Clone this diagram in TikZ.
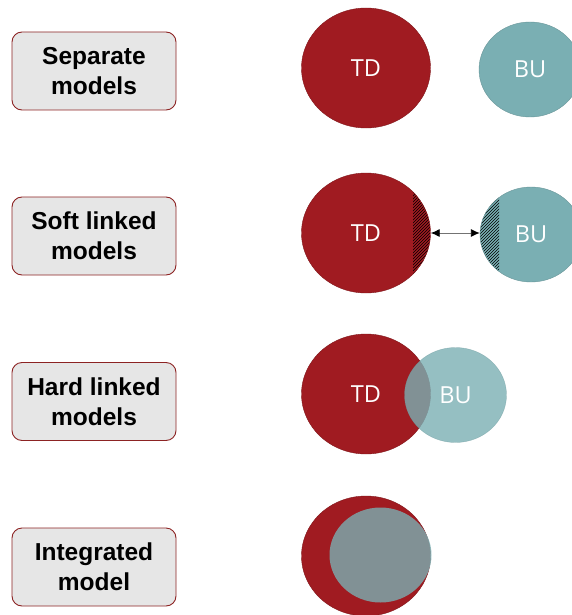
\documentclass[tikz,border=0pt]{standalone}
\usepackage{fontspec}
\setmainfont{Liberation Sans}
\newfontfamily\circfont{Open Sans}
\usetikzlibrary{shapes.geometric,positioning,arrows.meta,patterns}

\definecolor{tdred}{RGB}{160,27,33}
\definecolor{buteal}{RGB}{122,175,179}
\definecolor{boxgrey}{RGB}{230,230,230}
\definecolor{boxedge}{RGB}{140,35,35}

\begin{document}
\begin{tikzpicture}[x=1pt, y=-1pt,
    modelBox/.style={draw=boxedge, line width=0.9pt, fill=boxgrey, rounded corners=10pt,
      minimum width=164pt, minimum height=78pt, align=center,
      font=\fontsize{24.5}{30}\selectfont\bfseries},
    tdNode/.style={ellipse, draw=tdred!80!black, line width=0.4pt, fill=tdred,
      minimum width=129pt, minimum height=120pt, inner sep=0pt, text=white,
      font=\circfont\fontsize{23.5}{26}\selectfont},
    buNode/.style={ellipse, draw=buteal!85!black, line width=0.4pt, fill=buteal,
      minimum width=102pt, minimum height=95pt, inner sep=0pt, text=white,
      font=\circfont\fontsize{23.5}{26}\selectfont},
    seeThrough/.style={fill opacity=0.8, draw opacity=0.5, text opacity=1},
    hatchRight/.style={path picture={\fill[pattern=north east lines, pattern color=black]
      ([xshift=-#1]path picture bounding box.north east) rectangle (path picture bounding box.south east);}},
    hatchLeft/.style={path picture={\fill[pattern=north east lines, pattern color=black]
      (path picture bounding box.north west) rectangle ([xshift=#1]path picture bounding box.south west);}},
    linkArrow/.style={{Latex[black, length=9pt, width=8pt]}-{Latex[black, length=9pt, width=8pt]}, draw=black!55, line width=0.9pt}]

  \useasboundingbox (0,0) rectangle (571,615);

  % Labels on the left
  \node[modelBox] (sepBox) at (94,71) {Separate\\models};
  \node[modelBox] (softBox) at (94,236) {Soft linked\\models};
  \node[modelBox] (hardBox) at (94,401.5) {Hard linked\\models};
  \node[modelBox] (intBox) at (94,567) {Integrated\\model};

  % Separate models
  \node[tdNode] (td1) at (366,68) {TD};
  \node[buNode] (bu1) at (530,69.5) {BU};

  % Soft linked models
  \node[tdNode, hatchRight=17.5pt] (td2) at (366,233) {TD};
  \node[buNode, hatchLeft=19pt] (bu2) at (531,234.5) {BU};

  % Arrows
  \draw[linkArrow] (td2.east) -- (td2.east -| bu2.west);

  % Hard linked models
  \node[tdNode] (td3) at (366,394) {TD};
  \node[buNode, seeThrough] (bu3) at (455.5,395) {BU};

  % Integrated model
  \node[tdNode] (td4) at (366,556) {};
  \node[buNode, seeThrough, draw=none] (bu4) at (380.5,555) {};

\end{tikzpicture}
\end{document}
